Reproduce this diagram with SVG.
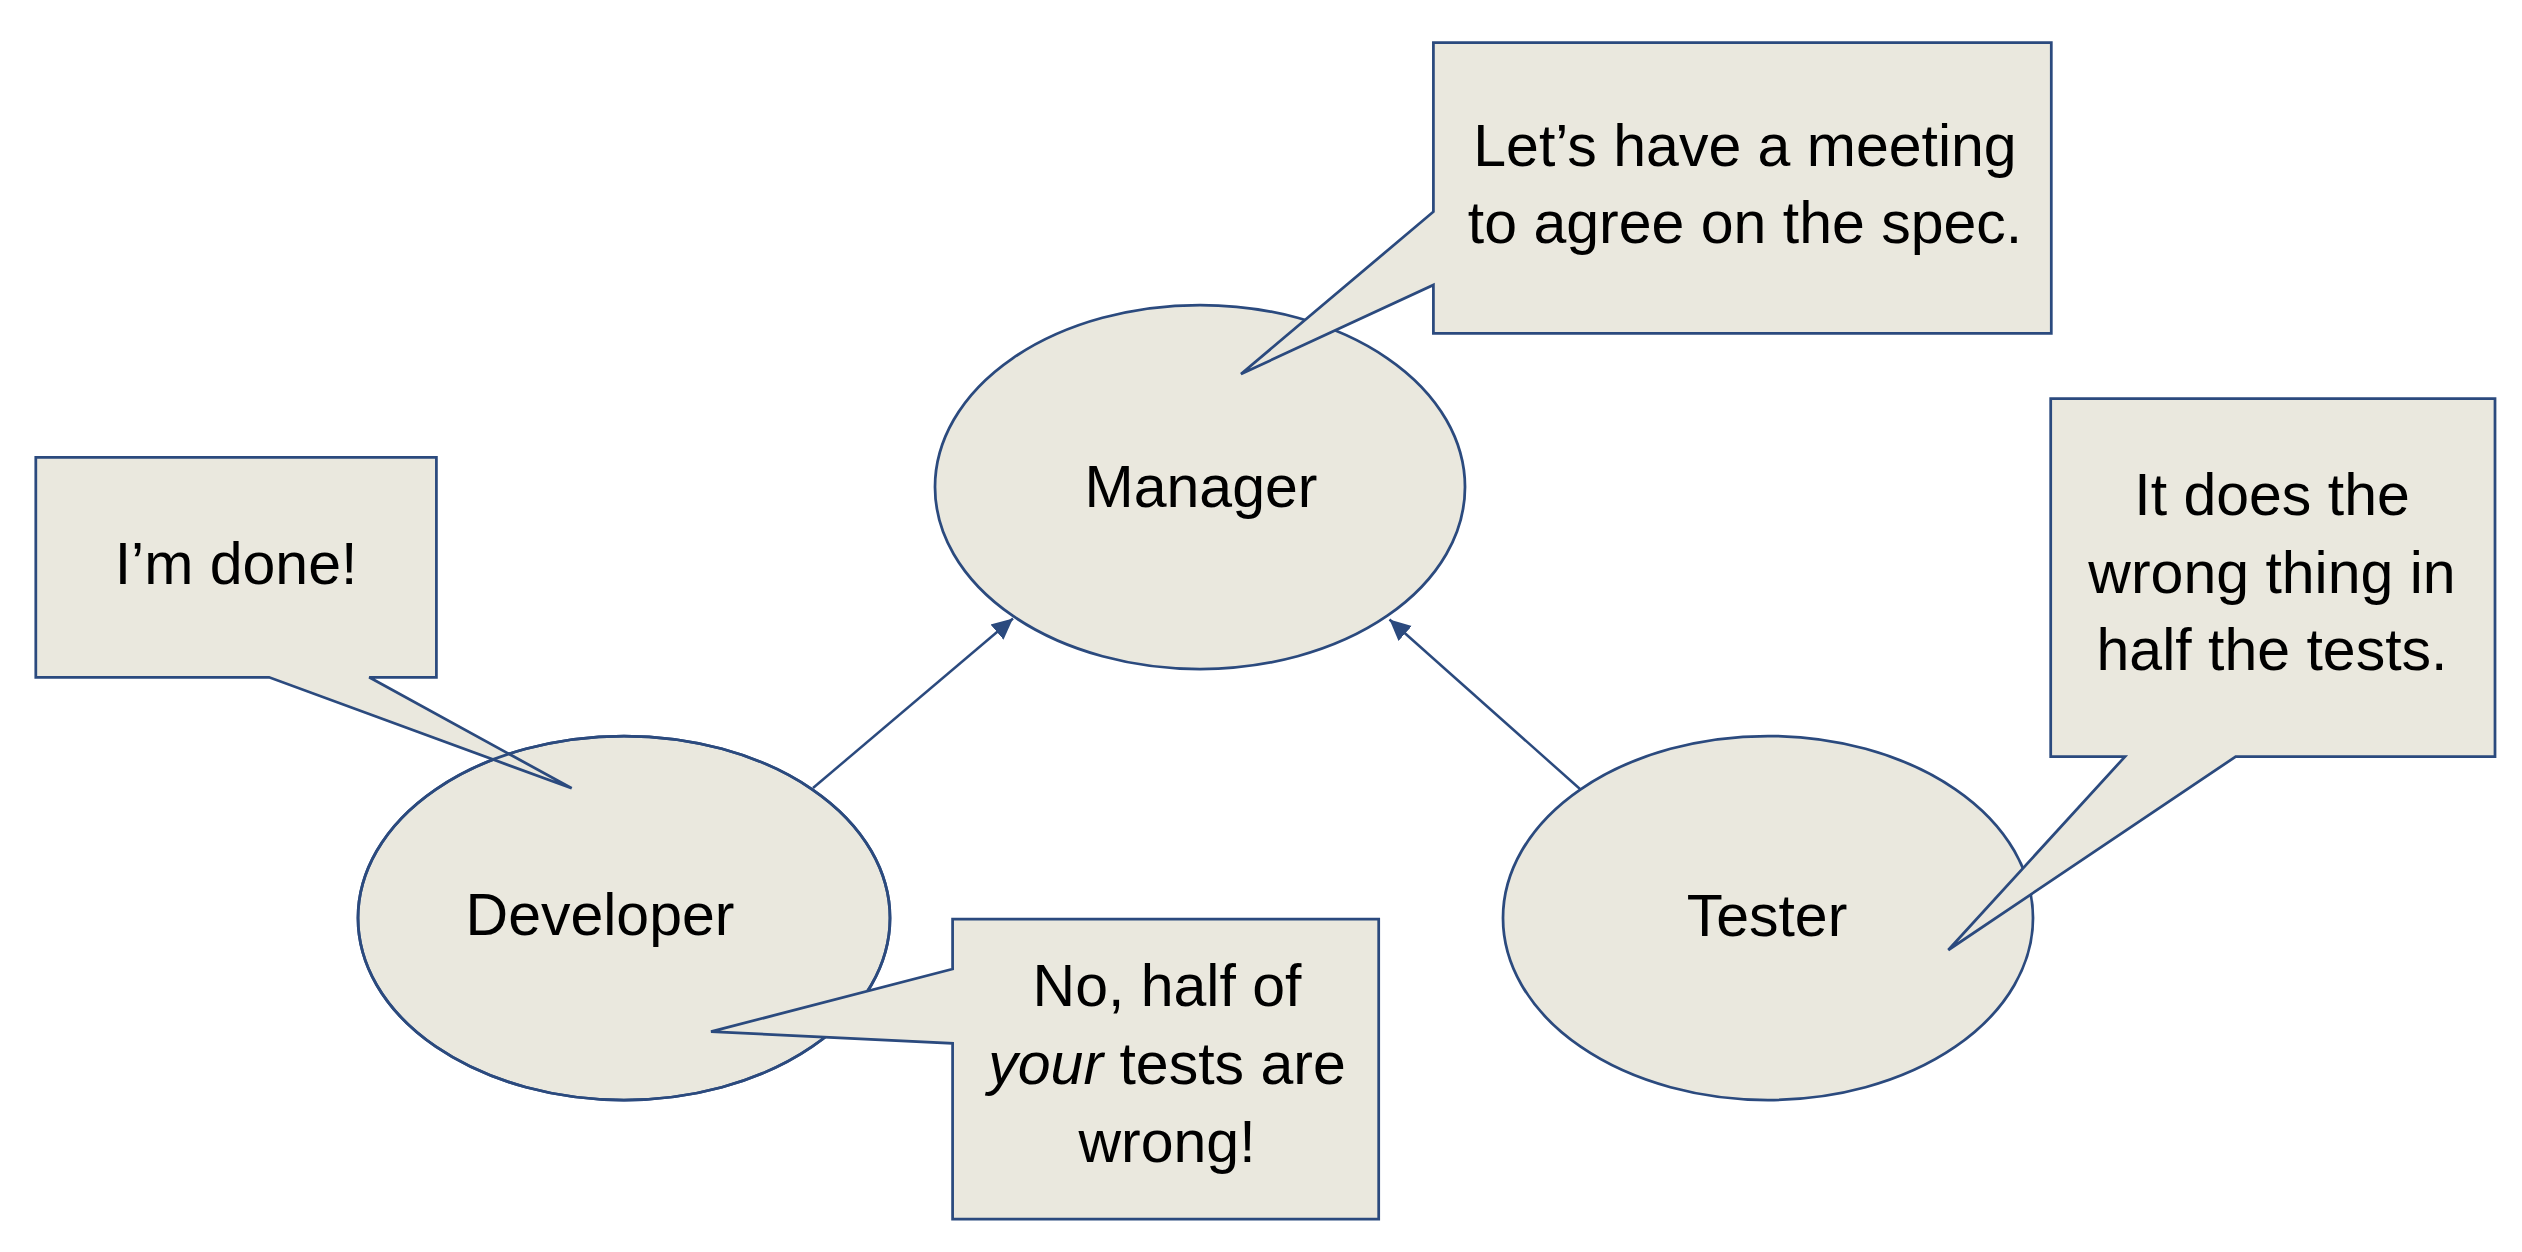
<svg xmlns="http://www.w3.org/2000/svg" xmlns:xlink="http://www.w3.org/1999/xlink" width="2522" height="1252" viewBox="0 0 2522 1252">
<style>
.shape{fill:#EAE8DE;stroke:#2B4A7E;stroke-width:2.75;stroke-linejoin:miter}
.outline{fill:none;stroke:#2B4A7E;stroke-width:2.75}
.conn{fill:none;stroke:#2B4A7E;stroke-width:2.5}
text{font-family:"Liberation Sans",Arial,sans-serif;font-size:59px;fill:#000;text-anchor:middle}
</style>
<defs>
<marker id="arrow" markerUnits="userSpaceOnUse" markerWidth="22" markerHeight="22" refX="21" refY="10" orient="auto" viewBox="0 0 22 20">
<path d="M0,0 L21,10 L0,20 Z" fill="#2B4A7E"/>
</marker>
</defs>
<rect x="0" y="0" width="2522" height="1252" fill="#FFFFFF"/>

<g id="manager">
<ellipse class="shape" cx="1200" cy="487" rx="265" ry="182"/>
<text x="1201" y="507">Manager</text>
</g>

<g id="developer">
<ellipse class="shape" cx="624" cy="918" rx="266" ry="182"/>
<text x="600" y="935">Developer</text>
</g>

<g id="tester">
<ellipse class="shape" cx="1768" cy="918" rx="265" ry="182"/>
<text x="1767" y="936">Tester</text>
</g>

<g id="connectors">
<line class="conn" x1="813" y1="788" x2="1013" y2="618.5" marker-end="url(#arrow)"/>
<line class="conn" x1="1580" y1="789" x2="1389.5" y2="619.5" marker-end="url(#arrow)"/>
</g>

<g id="callout-manager">
<path class="shape" d="M1433.4,42.7 H2051.3 V333.3 H1433.4 V285 L1241,374 L1433.4,211.7 Z"/>
<text x="1745" y="166">Let’s have a meeting</text>
<text x="1745" y="243">to agree on the spec.</text>
</g>

<g id="callout-developer-done">
<path class="shape" d="M35.8,457.3 H436.4 V677.3 H369.2 L571.7,788.3 L269.1,677.3 H35.8 Z"/>
<ellipse class="outline" cx="624" cy="918" rx="266" ry="182"/>
<text x="236" y="584">I’m done!</text>
</g>

<g id="callout-tester">
<path class="shape" d="M2050.7,398.5 H2495 V756.6 H2235.7 L1948.3,950 L2125,756.6 H2050.7 Z"/>
<text x="2272" y="515">It does the</text>
<text x="2272" y="593">wrong thing in</text>
<text x="2272" y="670">half the tests.</text>
</g>

<g id="callout-developer-reply">
<path class="shape" d="M952.6,919 H1378.7 V1219 H952.6 V1043.3 L711,1031.7 L952.6,969 Z"/>
<text x="1167" y="1006">No, half of</text>
<text x="1167" y="1084"><tspan font-style="italic">your</tspan> tests are</text>
<text x="1167" y="1162">wrong!</text>
</g>
</svg>
